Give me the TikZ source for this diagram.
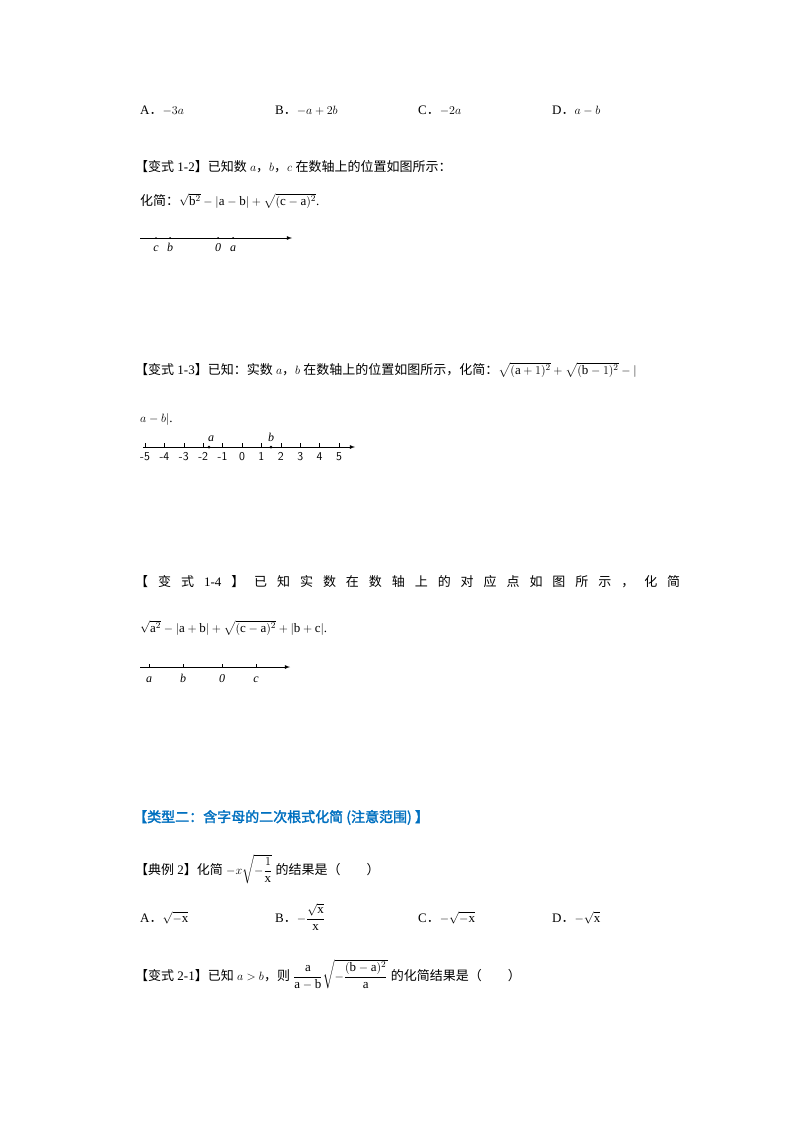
\documentclass[tikz,border=0pt]{standalone}
\usepackage{amsmath}
\usepackage{fontspec}
\setmainfont{Liberation Serif}
\newfontfamily\cjk{Noto Sans CJK SC}
\newfontfamily\cjkb{Noto Sans CJK SC}[FakeBold=2]
\definecolor{headblue}{RGB}{0,112,192}
\newcommand{\fd}{{\cjk ．}}
\begin{document}
\begin{tikzpicture}[x=1pt,y=-1pt,
  t/.style={anchor=base west,inner sep=0pt,font=\fontsize{13}{15}\selectfont},
  axis/.style={line width=0.8pt,-latex},
  lab/.style={anchor=base,inner sep=0pt,font=\fontsize{12}{14}\selectfont\itshape}]
\useasboundingbox[fill=white] (0,0) rectangle (800,1132);
% options line 1
\node[t] (o1a) at (140,114) {A\fd$-3a$};
\node[t] (o1b) at (275,114) {B\fd$-a+2b$};
\node[t] (o1c) at (418,114) {C\fd$-2a$};
\node[t] (o1d) at (552,114) {D\fd$a-b$};
% 1-2
\node[t] (q12) at (135,171) {{\cjk 【变式} 1-2{\cjk 】已知数} $a${\cjk ，}$b${\cjk ，}$c$ {\cjk 在数轴上的位置如图所示：}};
\node[t] (q12e) at (140,205) {{\cjk 化简：}$\sqrt{\mathrm{b}^2}-|\mathrm{a}-\mathrm{b}|+\sqrt{(\mathrm{c}-\mathrm{a})^2}$.};
\draw[axis] (140,238) coordinate (l1s) -- (292,238) coordinate (l1e);
\foreach \x/\l in {156/c,170/b,218/0,233/a}{
  \fill (\x,238) circle (1pt);
  \node[lab] at (\x,251) {\l};}
% 1-3
\node[t] (q13) at (135,374) {{\cjk 【变式} 1-3{\cjk 】已知：实数} $a${\cjk ，}$b$ {\cjk 在数轴上的位置如图所示，化简：}$\sqrt{(\mathrm{a}+1)^2}+\sqrt{(\mathrm{b}-1)^2}-|$};
\node[t] (q13b) at (140,422) {$a-b|$.};
\draw[axis] (143,447) -- (355,447);
\foreach \i in {-5,...,5}{
  \draw (145+19.4*\i+97,443) -- (145+19.4*\i+97,447);
  \node[anchor=base,inner sep=0pt,font=\sffamily\fontsize{12}{14}\selectfont] at (145+19.4*\i+97,460) {\i};}
\fill (209,447) circle (1.5pt); \node[lab] at (211,441) {a};
\fill (271,447) circle (1.5pt); \node[lab] at (271,441) {b};
% 1-4
\node[t] (q14) at (135,586) {\hbox to 545pt{\cjk 【\hfill 变\hfill 式\hfill {\rmfamily 1-4}\hfill 】\hfill 已\hfill 知\hfill 实\hfill 数\hfill 在\hfill 数\hfill 轴\hfill 上\hfill 的\hfill 对\hfill 应\hfill 点\hfill 如\hfill 图\hfill 所\hfill 示\hfill ，\hfill 化\hfill 简}};
\node[t] (q14e) at (140,632) {$\sqrt{\mathrm{a}^2}-|\mathrm{a}+\mathrm{b}|+\sqrt{(\mathrm{c}-\mathrm{a})^2}+|\mathrm{b}+\mathrm{c}|$.};
\draw[axis] (140,667) -- (290,667);
\foreach \x/\l in {149/a,183/b,222/0,256/c}{
  \draw (\x,664) -- (\x,667);
  \node[lab] at (\x,682) {\l};}
% heading
\node[t,text=headblue,font=\fontsize{14}{16}\selectfont] (h2) at (133,822) {\cjkb 【类型二：含字母的二次根式化简 (注意范围) 】};
% example 2
\node[t] (e2) at (135,874) {{\cjk 【典例} 2{\cjk 】化简} $-x\sqrt{-\dfrac{1}{\mathrm{x}}}$ {\cjk 的结果是（\qquad ）}};
\node[t] (o2a) at (140,922) {A\fd$\sqrt{-\mathrm{x}}$};
\node[t] (o2b) at (275,922) {B\fd$-\dfrac{\sqrt{\mathrm{x}}}{\mathrm{x}}$};
\node[t] (o2c) at (418,922) {C\fd$-\sqrt{-\mathrm{x}}$};
\node[t] (o2d) at (552,922) {D\fd$-\sqrt{\mathrm{x}}$};
% 2-1
\node[t] (q21) at (135,980) {{\cjk 【变式} 2-1{\cjk 】已知} $a>b${\cjk ，则} $\dfrac{\mathrm{a}}{\mathrm{a}-\mathrm{b}}\sqrt{-\dfrac{(\mathrm{b}-\mathrm{a})^2}{\mathrm{a}}}$ {\cjk 的化简结果是（\qquad ）}};
\end{tikzpicture}
\end{document}
